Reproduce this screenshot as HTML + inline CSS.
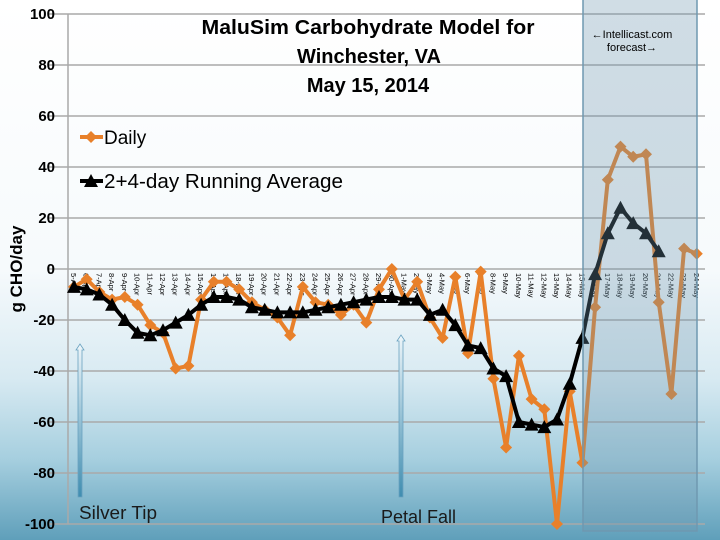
<!DOCTYPE html>
<html><head><meta charset="utf-8"><style>
html,body{margin:0;padding:0;width:720px;height:540px;overflow:hidden}
body{background:linear-gradient(180deg,#ffffff 0%,#f6fafc 50%,#d8eaf2 70%,#a6cfdf 85%,#5f9fba 100%)}
svg{position:absolute;left:0;top:0}
.t{font-family:"Liberation Sans Narrow","Liberation Sans",sans-serif}
</style></head><body>
<svg width="720" height="540" viewBox="0 0 720 540" xmlns="http://www.w3.org/2000/svg">
<defs>
<marker id="dia" markerUnits="userSpaceOnUse" markerWidth="14" markerHeight="14" refX="7" refY="7"><path d="M7 1 L13 7 L7 13 L1 7Z" fill="#e8802a"/></marker>
<marker id="tri" markerUnits="userSpaceOnUse" markerWidth="16" markerHeight="16" refX="8" refY="8"><path d="M8 1 L15 14 L1 14Z" fill="#000"/></marker>
<linearGradient id="arr" x1="0" y1="0" x2="0" y2="1"><stop offset="0" stop-color="#eef6fa"/><stop offset="1" stop-color="#3f8db0"/></linearGradient>
</defs>
<g stroke="#a9a9a9" stroke-width="1.5">
<line x1="48" y1="14" x2="705" y2="14"/><line x1="48" y1="65" x2="705" y2="65"/><line x1="48" y1="116" x2="705" y2="116"/><line x1="48" y1="167" x2="705" y2="167"/><line x1="48" y1="218" x2="705" y2="218"/><line x1="48" y1="269" x2="705" y2="269"/><line x1="48" y1="320" x2="705" y2="320"/><line x1="48" y1="371" x2="705" y2="371"/><line x1="48" y1="422" x2="705" y2="422"/><line x1="48" y1="473" x2="705" y2="473"/><line x1="48" y1="524" x2="705" y2="524"/>
<line x1="68" y1="14" x2="68" y2="524"/>
</g>
<g class="t" font-size="15" font-weight="bold" text-anchor="end" fill="#000">
<text x="55" y="19">100</text><text x="55" y="70">80</text><text x="55" y="121">60</text><text x="55" y="172">40</text><text x="55" y="223">20</text><text x="55" y="274">0</text><text x="55" y="325">-20</text><text x="55" y="376">-40</text><text x="55" y="427">-60</text><text x="55" y="478">-80</text><text x="55" y="529">-100</text>
</g>
<text class="t" x="0" y="0" font-size="17" font-weight="bold" transform="translate(22,269) rotate(-90)" text-anchor="middle">g CHO/day</text>
<g class="t" font-size="7.5" fill="#000">
<text transform="translate(71,273) rotate(90)">5-Apr</text><text transform="translate(83.7,273) rotate(90)">6-Apr</text><text transform="translate(96.4,273) rotate(90)">7-Apr</text><text transform="translate(109.1,273) rotate(90)">8-Apr</text><text transform="translate(121.8,273) rotate(90)">9-Apr</text><text transform="translate(134.6,273) rotate(90)">10-Apr</text><text transform="translate(147.3,273) rotate(90)">11-Apr</text><text transform="translate(160,273) rotate(90)">12-Apr</text><text transform="translate(172.7,273) rotate(90)">13-Apr</text><text transform="translate(185.4,273) rotate(90)">14-Apr</text><text transform="translate(198.1,273) rotate(90)">15-Apr</text><text transform="translate(210.8,273) rotate(90)">16-Apr</text><text transform="translate(223.5,273) rotate(90)">17-Apr</text><text transform="translate(236.2,273) rotate(90)">18-Apr</text><text transform="translate(248.9,273) rotate(90)">19-Apr</text><text transform="translate(261.7,273) rotate(90)">20-Apr</text><text transform="translate(274.4,273) rotate(90)">21-Apr</text><text transform="translate(287.1,273) rotate(90)">22-Apr</text><text transform="translate(299.8,273) rotate(90)">23-Apr</text><text transform="translate(312.5,273) rotate(90)">24-Apr</text><text transform="translate(325.2,273) rotate(90)">25-Apr</text><text transform="translate(337.9,273) rotate(90)">26-Apr</text><text transform="translate(350.6,273) rotate(90)">27-Apr</text><text transform="translate(363.3,273) rotate(90)">28-Apr</text><text transform="translate(376,273) rotate(90)">29-Apr</text><text transform="translate(388.8,273) rotate(90)">30-Apr</text><text transform="translate(401.5,273) rotate(90)">1-May</text><text transform="translate(414.2,273) rotate(90)">2-May</text><text transform="translate(426.9,273) rotate(90)">3-May</text><text transform="translate(439.6,273) rotate(90)">4-May</text><text transform="translate(452.3,273) rotate(90)">5-May</text><text transform="translate(465,273) rotate(90)">6-May</text><text transform="translate(477.7,273) rotate(90)">7-May</text><text transform="translate(490.4,273) rotate(90)">8-May</text><text transform="translate(503.1,273) rotate(90)">9-May</text><text transform="translate(515.9,273) rotate(90)">10-May</text><text transform="translate(528.6,273) rotate(90)">11-May</text><text transform="translate(541.3,273) rotate(90)">12-May</text><text transform="translate(554,273) rotate(90)">13-May</text><text transform="translate(566.7,273) rotate(90)">14-May</text><text transform="translate(579.4,273) rotate(90)">15-May</text><text transform="translate(592.1,273) rotate(90)">16-May</text><text transform="translate(604.8,273) rotate(90)">17-May</text><text transform="translate(617.5,273) rotate(90)">18-May</text><text transform="translate(630.2,273) rotate(90)">19-May</text><text transform="translate(643,273) rotate(90)">20-May</text><text transform="translate(655.7,273) rotate(90)">21-May</text><text transform="translate(668.4,273) rotate(90)">22-May</text><text transform="translate(681.1,273) rotate(90)">23-May</text><text transform="translate(693.8,273) rotate(90)">24-May</text>
</g>
<polyline fill="none" stroke="#e8802a" stroke-width="4" stroke-linejoin="round" marker-start="url(#dia)" marker-mid="url(#dia)" marker-end="url(#dia)" points="74,286.9 86.7,279.2 99.4,292 112.1,299.6 124.8,297 137.6,304.7 150.3,325.1 163,332.8 175.7,368.5 188.4,365.9 201.1,299.6 213.8,281.8 226.5,281.8 239.2,289.4 251.9,302.2 264.7,309.8 277.4,317.5 290.1,335.3 302.8,286.9 315.5,302.2 328.2,304.7 340.9,314.9 353.6,304.7 366.3,322.6 379,289.4 391.8,269 404.5,299.6 417.2,281.8 429.9,317.5 442.6,337.9 455.3,276.7 468,353.2 480.7,271.6 493.4,378.7 506.1,447.5 518.9,355.7 531.6,399.1 544.3,409.3 557,524 569.7,391.4 582.4,462.8 595.1,307.3 607.8,179.8 620.5,146.6 633.2,156.8 646,154.3 658.7,302.2 671.4,394 684.1,248.6 696.8,253.7"/>
<polyline fill="none" stroke="#000" stroke-width="4" stroke-linejoin="round" marker-start="url(#tri)" marker-mid="url(#tri)" marker-end="url(#tri)" points="74,286.9 86.7,289.4 99.4,294.5 112.1,304.7 124.8,320 137.6,332.8 150.3,335.3 163,330.2 175.7,322.6 188.4,314.9 201.1,304.7 213.8,297 226.5,297 239.2,299.6 251.9,307.3 264.7,309.8 277.4,312.4 290.1,312.4 302.8,312.4 315.5,309.8 328.2,307.3 340.9,304.7 353.6,302.2 366.3,299.6 379,297 391.8,297 404.5,299.6 417.2,299.6 429.9,314.9 442.6,309.8 455.3,325.1 468,345.5 480.7,348.1 493.4,368.5 506.1,376.1 518.9,422 531.6,424.6 544.3,427.1 557,419.5 569.7,383.8 582.4,337.9 595.1,274.1 607.8,233.3 620.5,207.8 633.2,223.1 646,233.3 658.7,251.2"/>
<rect x="583" y="-2" width="114" height="533" fill="rgba(110,150,175,0.32)" stroke="#6f98b0" stroke-width="1.5"/>
<g class="t" font-size="11" text-anchor="middle"><text x="632" y="38">←Intellicast.com</text><text x="632" y="51">forecast→</text></g>
<g class="t" font-size="20" font-weight="bold" text-anchor="middle"><text x="368" y="34" textLength="333" lengthAdjust="spacingAndGlyphs">MaluSim Carbohydrate Model for</text><text x="369" y="63">Winchester, VA</text><text x="368" y="92">May 15, 2014</text></g>
<line x1="80" y1="137" x2="103" y2="137" stroke="#e8802a" stroke-width="4"/><path d="M91 131 L97 137 L91 143 L85 137Z" fill="#e8802a"/>
<text class="t" x="104" y="144" font-size="19">Daily</text>
<line x1="80" y1="181" x2="103" y2="181" stroke="#000" stroke-width="4"/><path d="M91 174 L98 187 L84 187Z" fill="#000"/>
<text class="t" x="104" y="188" font-size="20" textLength="239" lengthAdjust="spacingAndGlyphs">2+4-day Running Average</text>
<path d="M78 497 L78 350 L76 350 L80 344 L84 350 L82 350 L82 497Z" fill="url(#arr)" stroke="#6aa2c0" stroke-width="0.8"/>
<path d="M399 497 L399 341 L397 341 L401 335 L405 341 L403 341 L403 497Z" fill="url(#arr)" stroke="#6aa2c0" stroke-width="0.8"/>
<text class="t" x="79" y="519" font-size="18" fill="#1a1a1a" textLength="78" lengthAdjust="spacingAndGlyphs">Silver Tip</text>
<text class="t" x="381" y="523" font-size="18" fill="#1a1a1a">Petal Fall</text>
</svg>
</body></html>
